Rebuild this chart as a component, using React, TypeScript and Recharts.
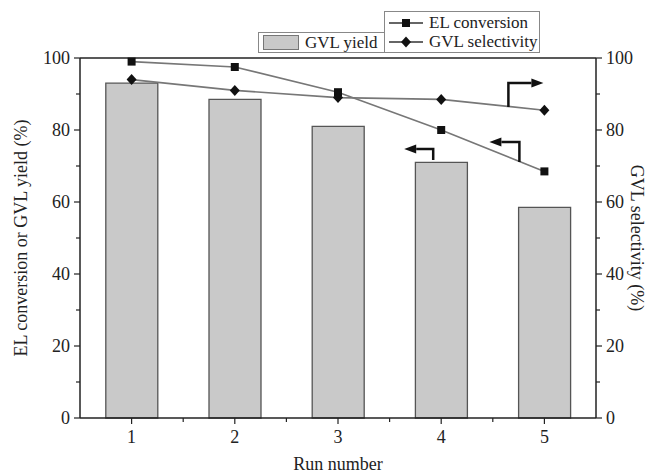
import React from 'react';
import { ComposedChart, Bar, Line, XAxis, YAxis, ReferenceLine, ReferenceDot } from 'recharts';

const runs = [1, 2, 3, 4, 5];
const gvlYield = [93, 88.5, 81, 71, 58.5];
const elConversion = [99, 97.5, 90.5, 80, 68.5];
const gvlSelectivity = [94, 91, 89, 88.5, 85.5];
const yTicks = [0, 10, 20, 30, 40, 50, 60, 70, 80, 90, 100];

// annotation arrows: anchored at a run and a y value, dx/up/arm in px
const arrows = [
  { run: 5, y: 86.4, dx: -36, up: 24, arm: 35, dir: 1 },
  { run: 5, y: 71.1, dx: -25, up: 20, arm: -30, dir: -1 },
  { run: 4, y: 71.7, dx: -8, up: 11, arm: -29, dir: -1 },
];

const W = 657;
const H = 474;
const M = { top: 58, right: 16, bottom: 26, left: 35 };
const YW = 45;
const XH = 30;
const plotW = W - M.left - M.right - 2 * YW;
const band = plotW / runs.length;

const font = '"Liberation Serif", "Times New Roman", serif';
const ink = '#222';

const data = runs.map((r, i) => ({
  run: r,
  yield: gvlYield[i],
  conv: elConversion[i],
  sel: gvlSelectivity[i],
}));

const LeftTick = (props: any) => {
  const { x, y, payload } = props;
  const major = payload.value % 20 === 0;
  return (
    <g>
      <line x1={x} x2={x - (major ? 6 : 4)} y1={y} y2={y} stroke={ink} strokeWidth={1.2} />
      {major && (
        <text x={x - 10} y={y} dy={6} textAnchor="end" fontFamily={font} fontSize={18} fill={ink}>
          {payload.value}
        </text>
      )}
    </g>
  );
};

const RightTick = (props: any) => {
  const { x, y, payload } = props;
  const major = payload.value % 20 === 0;
  return (
    <g>
      <line x1={x} x2={x + (major ? 6 : 4)} y1={y} y2={y} stroke={ink} strokeWidth={1.2} />
      {major && (
        <text x={x + 10} y={y} dy={6} textAnchor="start" fontFamily={font} fontSize={18} fill={ink}>
          {payload.value}
        </text>
      )}
    </g>
  );
};

const BottomTick = (props: any) => {
  const { x, y, payload, index } = props;
  return (
    <g>
      <line x1={x} x2={x} y1={y} y2={y + 6} stroke={ink} strokeWidth={1.2} />
      {index < runs.length - 1 && (
        <line x1={x + band / 2} x2={x + band / 2} y1={y} y2={y + 4} stroke={ink} strokeWidth={1.2} />
      )}
      <text x={x} y={y + 25} textAnchor="middle" fontFamily={font} fontSize={18} fill={ink}>
        {payload.value}
      </text>
    </g>
  );
};

const Square = (props: any) => {
  const { cx, cy } = props;
  if (cx == null || cy == null) return null;
  return <rect x={cx - 4} y={cy - 4} width={8} height={8} fill="#111" />;
};

const Diamond = (props: any) => {
  const { cx, cy } = props;
  if (cx == null || cy == null) return null;
  return <path d={`M${cx},${cy - 5.5}L${cx + 5},${cy}L${cx},${cy + 5.5}L${cx - 5},${cy}Z`} fill="#111" />;
};

const arrowShape = (a: typeof arrows[number]) => (props: any) => {
  const { cx, cy } = props;
  const sx = cx + a.dx;
  const topY = cy - a.up;
  const tipX = sx + a.arm;
  const headX = tipX - a.dir * 12;
  return (
    <g>
      <path d={`M${sx},${cy}L${sx},${topY}L${headX},${topY}`} stroke="#111" strokeWidth={2.5} fill="none" />
      <path d={`M${tipX},${topY}L${headX},${topY - 4.5}L${headX},${topY + 4.5}Z`} fill="#111" />
    </g>
  );
};

const LegendIcon = ({ marker }: { marker: 'square' | 'diamond' }) => (
  <svg width={36} height={12} style={{ display: 'block' }}>
    <line x1={1} x2={35} y1={6} y2={6} stroke="#333" strokeWidth={1.3} />
    {marker === 'square' ? (
      <rect x={14} y={2} width={8} height={8} fill="#111" />
    ) : (
      <path d="M18,0.5L23,6L18,11.5L13,6Z" fill="#111" />
    )}
  </svg>
);

export default function App() {
  const boxStyle: React.CSSProperties = {
    position: 'absolute',
    border: '1.5px solid #888',
    background: '#fff',
    fontFamily: font,
    fontSize: 17,
    color: ink,
    boxSizing: 'border-box',
  };
  const rowStyle: React.CSSProperties = { display: 'flex', alignItems: 'center', height: 19, gap: 5 };

  return (
    <div style={{ position: 'absolute', left: 0, top: 0, width: W, height: H, background: '#fff' }}>
      <ComposedChart width={W} height={H} data={data} margin={M} barCategoryGap="25%">
        <XAxis
          dataKey="run"
          height={XH}
          axisLine={{ stroke: ink, strokeWidth: 1.5 }}
          tickLine={false}
          tickSize={0}
          tickMargin={0}
          tick={<BottomTick />}
          interval={0}
          label={{ value: 'Run number', position: 'insideBottom', offset: -22, fontFamily: font, fontSize: 18, fill: ink }}
        />
        <YAxis
          yAxisId="left"
          width={YW}
          domain={[0, 100]}
          ticks={yTicks}
          interval={0}
          axisLine={{ stroke: ink, strokeWidth: 1.5 }}
          tickLine={false}
          tickSize={0}
          tickMargin={0}
          tick={<LeftTick />}
          label={{
            value: 'EL conversion or GVL yield (%)',
            angle: -90,
            position: 'insideLeft',
            offset: -14,
            style: { textAnchor: 'middle' },
            fontFamily: font,
            fontSize: 18,
            fill: ink,
          }}
        />
        <YAxis
          yAxisId="right"
          orientation="right"
          width={YW}
          domain={[0, 100]}
          ticks={yTicks}
          interval={0}
          axisLine={{ stroke: ink, strokeWidth: 1.5 }}
          tickLine={false}
          tickSize={0}
          tickMargin={0}
          tick={<RightTick />}
          label={{
            value: 'GVL selectivity (%)',
            angle: 90,
            position: 'insideRight',
            offset: 4,
            style: { textAnchor: 'middle' },
            fontFamily: font,
            fontSize: 18,
            fill: ink,
          }}
        />
        <ReferenceLine yAxisId="left" y={100} stroke={ink} strokeWidth={1.5} />
        <Bar yAxisId="left" dataKey="yield" fill="#c9c9c9" stroke="#555" strokeWidth={1.3} isAnimationActive={false} />
        <Line
          yAxisId="left"
          dataKey="conv"
          stroke="#777"
          strokeWidth={1.6}
          dot={<Square />}
          activeDot={false}
          isAnimationActive={false}
        />
        <Line
          yAxisId="right"
          dataKey="sel"
          stroke="#777"
          strokeWidth={1.6}
          dot={<Diamond />}
          activeDot={false}
          isAnimationActive={false}
        />
        {arrows.map((a, i) => (
          <ReferenceDot key={i} yAxisId="left" x={a.run} y={a.y} shape={arrowShape(a)} />
        ))}
      </ComposedChart>
      <div style={{ ...boxStyle, left: 258, top: 32, width: 127, height: 21, display: 'flex', alignItems: 'center', paddingLeft: 4, gap: 6 }}>
        <div style={{ width: 34, height: 13, background: '#c9c9c9', border: '1.5px solid #777' }} />
        <span>GVL yield</span>
      </div>
      <div style={{ ...boxStyle, left: 384, top: 11, width: 156, height: 42, paddingLeft: 3, paddingTop: 1 }}>
        <div style={rowStyle}>
          <LegendIcon marker="square" />
          <span>EL conversion</span>
        </div>
        <div style={rowStyle}>
          <LegendIcon marker="diamond" />
          <span>GVL selectivity</span>
        </div>
      </div>
    </div>
  );
}
